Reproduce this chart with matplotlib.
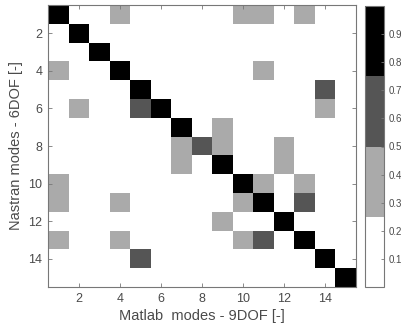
import numpy as np
import matplotlib
matplotlib.use("Agg")
import matplotlib.pyplot as plt
from matplotlib.colors import ListedColormap, Normalize

plt.rcParams['font.family'] = ['Liberation Sans', 'DejaVu Sans']

n_modes = 15
# Off-diagonal MAC cells: (nastran_row, matlab_col)
light_cells = [(1, 4), (1, 10), (1, 11), (1, 13), (4, 1), (4, 11), (6, 2), (6, 14),
               (7, 9), (8, 7), (8, 9), (8, 12), (9, 7), (9, 12), (10, 1), (10, 11),
               (10, 13), (11, 1), (11, 4), (11, 10), (12, 9), (13, 1), (13, 4), (13, 10)]
dark_cells = [(5, 14), (6, 5), (8, 8), (11, 13), (13, 11), (14, 5)]
diag_value = 0.97
light_value = 0.35
dark_value = 0.62

mac = np.zeros((n_modes, n_modes))
for i in range(n_modes):
    mac[i, i] = diag_value
for r, c in light_cells:
    mac[r - 1, c - 1] = light_value
for r, c in dark_cells:
    mac[r - 1, c - 1] = dark_value

x_ticks = [2, 4, 6, 8, 10, 12, 14]
y_ticks = [2, 4, 6, 8, 10, 12, 14]
cbar_ticks = [0.1, 0.2, 0.3, 0.4, 0.5, 0.6, 0.7, 0.8, 0.9]

cmap = ListedColormap(['#ffffff', '#aaaaaa', '#555555', '#000000'])
norm = Normalize(vmin=0, vmax=1)

W, H = 402, 332
fig = plt.figure(figsize=(W / 100, H / 100), dpi=100)
ax = fig.add_axes([48 / W, 1 - 287 / H, 308 / W, 282 / H])
cax = fig.add_axes([365 / W, 1 - 287 / H, 19 / W, 281 / H])

im = ax.imshow(mac, cmap=cmap, norm=norm, aspect='auto',
               extent=[0.5, n_modes + 0.5, n_modes + 0.5, 0.5], interpolation='nearest')

tick_color = '#4a4a4a'
spine_color = '#777777'
ax.set_xticks(x_ticks)
ax.set_yticks(y_ticks)
ax.tick_params(direction='in', length=3, width=0.6, color=spine_color,
               top=True, right=True, labelsize=9, labelcolor=tick_color, pad=4)
for s in ax.spines.values():
    s.set_color(spine_color)
    s.set_linewidth(0.8)
ax.set_xlabel('Matlab  modes - 9DOF [-]', fontsize=10.5, color=tick_color, labelpad=3)
ax.set_ylabel('Nastran modes - 6DOF [-]', fontsize=10.5, color=tick_color, labelpad=4)

cb = fig.colorbar(im, cax=cax, ticks=cbar_ticks)
cb.ax.minorticks_off()
cb.ax.tick_params(direction='in', length=2.5, width=0.6, color=spine_color,
                  labelsize=7, labelcolor=tick_color, pad=3)
cb.outline.set_edgecolor(spine_color)
cb.outline.set_linewidth(0.8)
cb.ax.set_yticklabels([f'{t:.1f}' for t in cbar_ticks])

fig.savefig('out.png', dpi=100)
